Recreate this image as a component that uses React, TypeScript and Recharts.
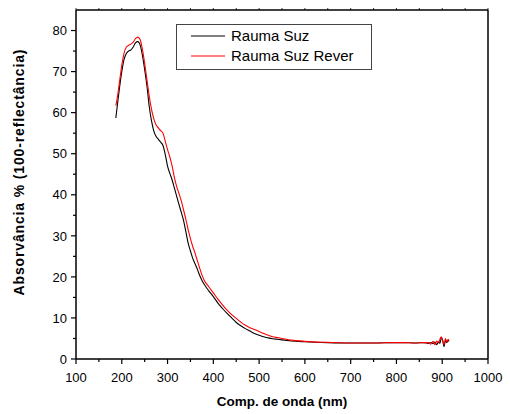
import { LineChart, Line, XAxis, YAxis, Legend } from "recharts";

// wavelength (nm)
const wavelengths = [
  187, 190, 195, 200, 205, 210, 215, 220, 225, 230, 235, 240, 245, 250, 255, 260,
  265, 270, 275, 280, 285, 290, 295, 300, 305, 310, 315, 320, 325, 330, 335, 340,
  345, 350, 355, 360, 365, 370, 375, 380, 390, 400, 410, 420, 430, 440, 450, 460,
  470, 480, 490, 500, 510, 520, 530, 540, 550, 570, 600, 650, 700, 750, 800, 820,
  840, 860, 870, 875, 880, 884, 888, 892, 895, 898, 901, 904, 907, 910, 913, 915,
];

const raumaSuz = [
  58.7, 61.5, 66, 70, 73, 74.4, 75, 75.3, 76, 77, 77.3, 76.5, 74, 70.5, 66.5, 61.5,
  58, 55.5, 54.2, 53.5, 52.8, 52, 49.8, 47, 45.2, 43.6, 41.6, 39.6, 37.6, 35.7, 33.7, 31,
  28.2, 26.3, 24.5, 23.2, 21.9, 20.4, 19.2, 18.2, 16.6, 15.2, 13.6, 12.3, 11.1, 10, 8.9, 8.1,
  7.4, 6.8, 6.2, 5.8, 5.4, 5.15, 4.95, 4.8, 4.65, 4.4, 4.2, 4.0, 3.9, 3.9, 4.0, 4.0,
  3.9, 4.0, 3.8, 4.0, 3.7, 4.1, 3.5, 4.2, 3.8, 5.2, 4.6, 3.0, 4.5, 4.0, 4.5, 4.3,
];

const raumaSuzRever = [
  61.7, 63.5, 67.5, 71.5, 74.5, 76, 76.4, 76.7, 77.2, 78, 78.4, 77.8, 75.5, 72, 68, 64,
  60.8, 58.5, 57, 56.3, 55.6, 55, 53, 51, 49.2, 47, 44.2, 42, 40.3, 38.5, 36.3, 34,
  31.5, 29.3, 27.4, 25.8, 24, 22.2, 20.5, 19.2, 17.6, 16.1, 14.6, 13.2, 11.9, 10.8, 9.9, 9,
  8.2, 7.6, 7.2, 6.7, 6.2, 5.8, 5.4, 5.2, 5, 4.6, 4.3, 4.05, 3.9, 3.9, 4.0, 4.0,
  3.9, 4.0, 4.0, 3.6, 4.3, 3.5, 4.4, 3.9, 4.8, 5.4, 4.3, 3.5, 5.0, 4.2, 4.8, 4.5,
];

const xTicks = [100, 150, 200, 250, 300, 350, 400, 450, 500, 550, 600, 650, 700, 750, 800, 850, 900, 950, 1000];
const yTicks = [0, 5, 10, 15, 20, 25, 30, 35, 40, 45, 50, 55, 60, 65, 70, 75, 80];

const data = wavelengths.map((nm, i) => ({
  nm,
  suz: raumaSuz[i],
  rever: raumaSuzRever[i],
}));

const FONT = "'Liberation Sans', Arial, sans-serif";

const BottomTick = (props: any) => {
  const { x, y, payload } = props;
  const major = payload.value % 100 === 0;
  return (
    <g>
      <line x1={x} x2={x} y1={y} y2={y + (major ? 5 : 3)} stroke="#000" strokeWidth={1.2} />
      {major && (
        <text x={x} y={y + 23} textAnchor="middle" fontSize={13} fontFamily={FONT} fill="#000">
          {payload.value}
        </text>
      )}
    </g>
  );
};

const LeftTick = (props: any) => {
  const { x, y, payload } = props;
  const major = payload.value % 10 === 0;
  return (
    <g>
      <line x1={x} x2={x - (major ? 5 : 3)} y1={y} y2={y} stroke="#000" strokeWidth={1.2} />
      {major && (
        <text x={x - 9} y={y} dy="0.36em" textAnchor="end" fontSize={13} fontFamily={FONT} fill="#000">
          {payload.value}
        </text>
      )}
    </g>
  );
};

const TopTick = (props: any) => {
  const { x, y } = props;
  return <line x1={x} x2={x} y1={y} y2={y - 2} stroke="#000" strokeWidth={0.8} />;
};

const RightTick = (props: any) => {
  const { x, y, payload } = props;
  const major = payload.value % 10 === 0;
  return <line x1={x} x2={x + (major ? 3 : 2)} y1={y} y2={y} stroke="#000" strokeWidth={1} />;
};

const XTitle = () => (
  <text x={282} y={406} textAnchor="middle" fontSize={13.5} fontWeight="bold" fontFamily={FONT} fill="#000">
    Comp. de onda (nm)
  </text>
);

const YTitle = () => (
  <text
    x={24}
    y={172.5}
    transform="rotate(-90 24 172.5)"
    textAnchor="middle"
    fontSize={14}
    fontWeight="bold"
    fontFamily={FONT}
    fill="#000"
    textLength={246}
    lengthAdjust="spacing"
  >
    Absorvância % (100-reflectância)
  </text>
);

const renderLegend = (props: any) => {
  const { payload } = props;
  return (
    <div
      style={{
        position: "relative",
        width: 196,
        height: 46,
        border: "1px solid #444",
        boxSizing: "border-box",
        background: "#fff",
        fontFamily: FONT,
        fontSize: 15,
      }}
    >
      {(payload || []).map((entry: any, i: number) => (
        <div key={entry.value} style={{ position: "absolute", left: 0, top: 2 + i * 20, height: 18, width: 194 }}>
          <svg width={40} height={18} style={{ position: "absolute", left: 14, top: 0 }}>
            <line x1={0} x2={34} y1={9} y2={9} stroke={entry.color} strokeWidth={1.2} />
          </svg>
          <span style={{ position: "absolute", left: 54, top: 0, lineHeight: "18px", color: "#000", whiteSpace: "nowrap" }}>
            {entry.value}
          </span>
        </div>
      ))}
    </div>
  );
};

export default function App() {
  return (
    <div style={{ position: "absolute", left: 0, top: 0, background: "#fff" }}>
      <LineChart width={510} height={414} data={data} margin={{ top: 0, right: 0, bottom: 0, left: 0 }}>
        <XAxis
          xAxisId="bottom"
          dataKey="nm"
          type="number"
          domain={[100, 1000]}
          ticks={xTicks}
          interval={0}
          height={55}
          tickSize={0}
          tickMargin={0}
          tick={<BottomTick />}
          axisLine={{ stroke: "#000", strokeWidth: 1.5 }}
          label={<XTitle />}
        />
        <XAxis
          xAxisId="top"
          orientation="top"
          dataKey="nm"
          type="number"
          domain={[100, 1000]}
          ticks={xTicks}
          interval={0}
          height={10}
          tickSize={0}
          tickMargin={0}
          tick={<TopTick />}
          axisLine={{ stroke: "#000", strokeWidth: 1.5 }}
        />
        <YAxis
          yAxisId="left"
          type="number"
          domain={[0, 85]}
          ticks={yTicks}
          interval={0}
          width={76}
          tickSize={0}
          tickMargin={0}
          tick={<LeftTick />}
          axisLine={{ stroke: "#000", strokeWidth: 1.5 }}
          label={<YTitle />}
        />
        <YAxis
          yAxisId="right"
          orientation="right"
          type="number"
          domain={[0, 85]}
          ticks={yTicks}
          interval={0}
          width={22}
          tickSize={0}
          tickMargin={0}
          tick={<RightTick />}
          axisLine={{ stroke: "#000", strokeWidth: 1.5 }}
        />
        <Legend
          layout="vertical"
          align="center"
          verticalAlign="middle"
          wrapperStyle={{ top: 24, left: 176, width: 196, height: 46 }}
          content={renderLegend}
        />
        <Line
          xAxisId="bottom"
          yAxisId="left"
          type="monotone"
          dataKey="suz"
          name="Rauma Suz"
          stroke="#000000"
          strokeWidth={1.1}
          dot={false}
          isAnimationActive={false}
        />
        <Line
          xAxisId="bottom"
          yAxisId="left"
          type="monotone"
          dataKey="rever"
          name="Rauma Suz Rever"
          stroke="#ff0000"
          strokeWidth={1.1}
          dot={false}
          isAnimationActive={false}
        />
      </LineChart>
    </div>
  );
}
